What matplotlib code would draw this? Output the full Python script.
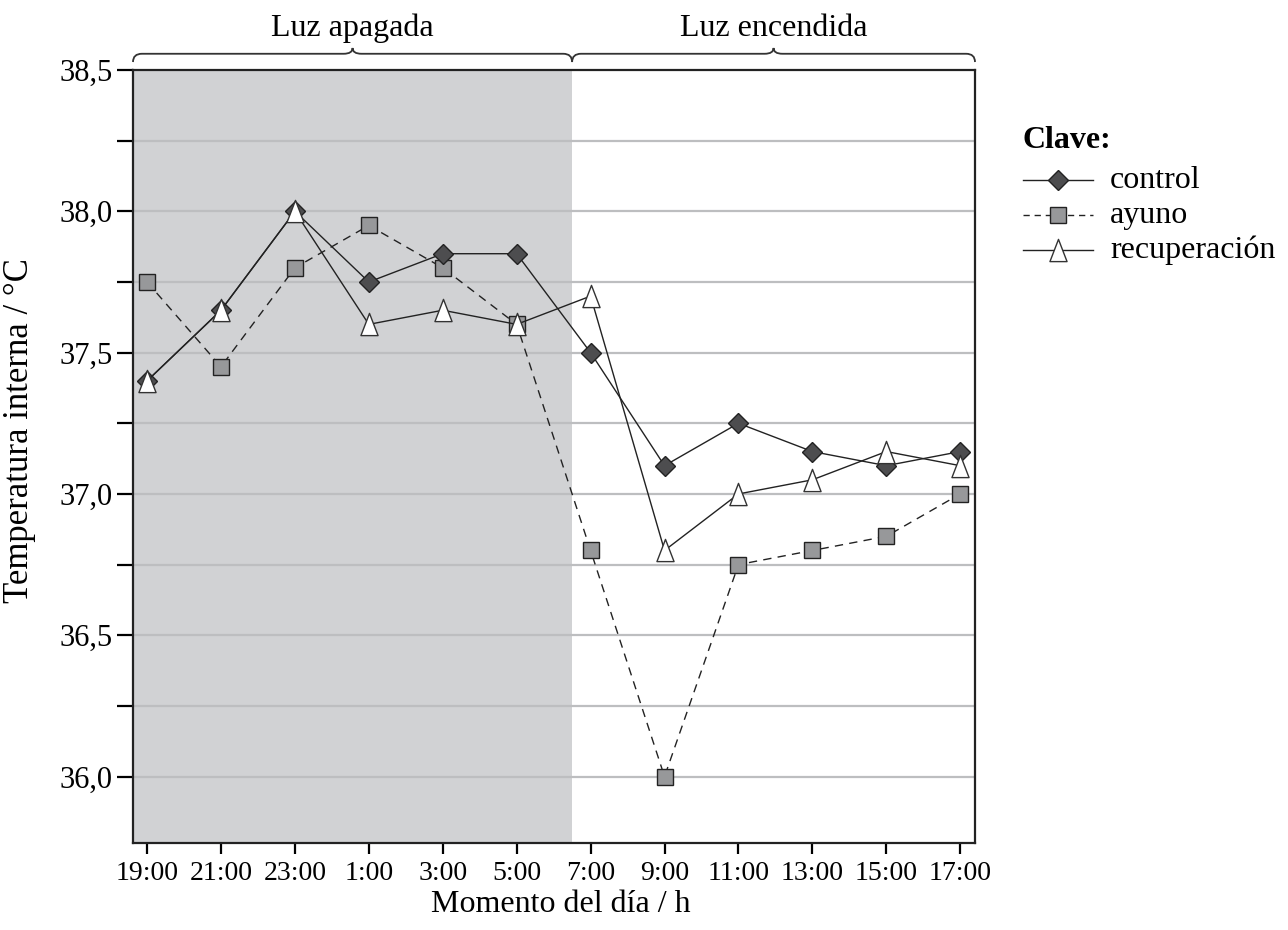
import numpy as np
import matplotlib.pyplot as plt
from matplotlib.path import Path
from matplotlib.patches import PathPatch
from matplotlib.lines import Line2D
import matplotlib.transforms as mtransforms

plt.rcParams['font.family'] = ['Liberation Serif', 'DejaVu Serif']

# Data
horas = ['19:00', '21:00', '23:00', '1:00', '3:00', '5:00', '7:00',
         '9:00', '11:00', '13:00', '15:00', '17:00']
control = [37.4, 37.65, 38.0, 37.75, 37.85, 37.85, 37.5, 37.1, 37.25, 37.15, 37.1, 37.15]
ayuno = [37.75, 37.45, 37.8, 37.95, 37.8, 37.6, 36.8, 36.0, 36.75, 36.8, 36.85, 37.0]
recuperacion = [37.4, 37.65, 38.0, 37.6, 37.65, 37.6, 37.7, 36.8, 37.0, 37.05, 37.15, 37.1]
corte_luz = 5.75  # 6:30

W, H = 1288, 930
x = np.arange(len(horas))

# tall triangle marker
tri = Path([(0, 1), (-0.77, -1), (0.77, -1), (0, 1)],
           [Path.MOVETO, Path.LINETO, Path.LINETO, Path.CLOSEPOLY])

estilos = {
    'control': dict(color='#222222', lw=1.0, marker='D', ms=10,
                    mfc='#4d4d4f', mec='#222222', mew=1.0),
    'ayuno': dict(color='#222222', lw=1.0, marker='s', ms=12,
                  mfc='#97989a', mec='#222222', mew=1.0),
    'recuperación': dict(color='#222222', lw=1.0, marker=tri, ms=16,
                         mfc='white', mec='#333333', mew=1.0),
}

fig = plt.figure(figsize=(W/100, H/100), dpi=100)
ax = fig.add_axes([133/W, 87/H, 842/W, 773/H])

xmin, xmax = -0.19, 11.2
ax.set_xlim(xmin, xmax)
ax.set_ylim(35.765, 38.5)

# shaded dark period
ax.axvspan(xmin, corte_luz, color='#d1d2d4', lw=0, zorder=0)
for yv in np.arange(36.0, 38.5, 0.25):
    ax.axhline(yv, color='#bdbec0', lw=1.6, zorder=1)

ax.plot(x, ayuno, ls=(0, (6, 4.5)), zorder=3, **estilos['ayuno'])
ax.plot(x, control, zorder=4, **estilos['control'])
ax.plot(x, recuperacion, zorder=5, **estilos['recuperación'])

ax.set_xticks(x)
ax.set_xticklabels(horas)
ax.set_yticks([36.0, 36.5, 37.0, 37.5, 38.0, 38.5])
ax.set_yticklabels(['36,0', '36,5', '37,0', '37,5', '38,0', '38,5'])
ax.set_yticks(np.arange(35.75, 38.5, 0.25)[1:], minor=True)
ax.tick_params(axis='x', direction='out', length=8, width=1.6, labelsize=20, pad=5)
ax.tick_params(axis='y', which='both', direction='out', length=11.5, width=1.6,
               labelsize=22, pad=3)
for s in ax.spines.values():
    s.set_linewidth(1.6)
    s.set_color('#222222')

fig.text(561/W, 1 - 912/H, 'Momento del día / h', fontsize=23,
         ha='center', va='baseline')
fig.text(20/W, 1 - 431/H, 'Temperatura interna / °C', fontsize=25,
         rotation=90, ha='center', va='center')


def llave(x0, x1, texto):
    trans = mtransforms.blended_transform_factory(ax.transData, ax.transAxes)
    ybase, yline, ytip = 1.0103, 1.021, 1.0285
    xm = (x0 + x1) / 2
    r = 0.12
    verts = [(x0, ybase), (x0, yline), (x0 + r, yline), (x0 + r, yline),
             (xm - r, yline), (xm, yline), (xm, ytip),
             (xm, yline), (xm + r, yline), (x1 - r, yline),
             (x1 - r, yline), (x1, yline), (x1, ybase)]
    codes = [Path.MOVETO, Path.CURVE3, Path.CURVE3, Path.LINETO,
             Path.LINETO, Path.CURVE3, Path.CURVE3,
             Path.CURVE3, Path.CURVE3, Path.LINETO,
             Path.LINETO, Path.CURVE3, Path.CURVE3]
    ax.add_patch(PathPatch(Path(verts, codes), fc='none', ec='#333333',
                           lw=1.3, transform=trans, clip_on=False))
    ax.text(xm, 1.0445, texto, transform=trans, ha='center', va='baseline',
            fontsize=23, clip_on=False)


llave(xmin, corte_luz, 'Luz apagada')
llave(corte_luz, xmax, 'Luz encendida')

# legend ("Clave")
fig.text(1022/W, 1 - 140/H, 'Clave:', fontsize=23, fontweight='bold',
         ha='left', va='center')
nombres = ['control', 'ayuno', 'recuperación']
ys = [180, 215, 250]
for nombre, yl in zip(nombres, ys):
    st = dict(estilos[nombre])
    ls = (0, (4.5, 3.5)) if nombre == 'ayuno' else '-'
    fy = 1 - yl/H
    fig.add_artist(Line2D([1023/W, 1093/W], [fy, fy], color=st['color'],
                          lw=st['lw'], ls=ls, transform=fig.transFigure))
    fig.add_artist(Line2D([1058/W], [fy], ls='none', marker=st['marker'],
                          ms=st['ms'], mfc=st['mfc'], mec=st['mec'],
                          mew=st['mew'], transform=fig.transFigure))
    fig.text(1110/W, fy, nombre, fontsize=23, ha='left', va='center')

fig.savefig('out.png', dpi=100)
